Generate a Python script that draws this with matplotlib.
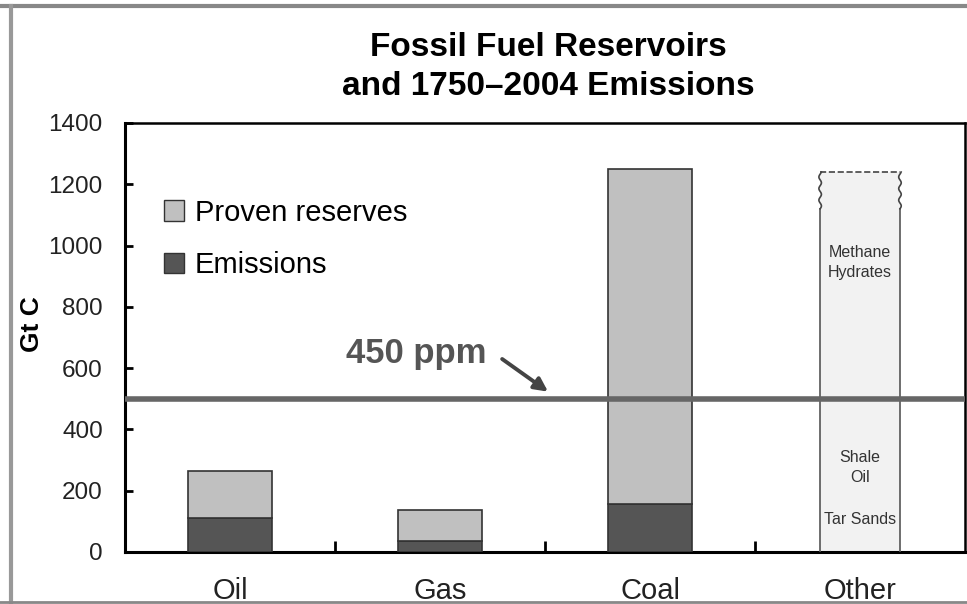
import numpy as np
import matplotlib
matplotlib.use('Agg')
import matplotlib.pyplot as plt
from matplotlib.lines import Line2D

# data (Gt C)
categories = ['Oil', 'Gas', 'Coal', 'Other']
emissions = [111, 36, 155, 0]
reserves_total = [265, 137, 1250, 0]
other_total = 1240       # dashed top of the "Other" bar
other_solid = 1120       # where the wavy (uncertain) part starts
limit_450 = 500

annotations_other = [('Methane\nHydrates', 945), ('Shale\nOil', 275), ('Tar Sands', 105)]

plt.rcParams['font.family'] = ['Liberation Sans', 'DejaVu Sans']

fig = plt.figure(figsize=(9.67, 6.04), dpi=100)
ax = fig.add_axes([0.1293, 0.0861, 0.8687, 0.7103])

x = np.arange(len(categories))
w = 0.40
em_col = '#555555'
res_col = '#c0c0c0'
edge = '#333333'

proven = [t - e for t, e in zip(reserves_total, emissions)]
ax.bar(x[:3], emissions[:3], w, color=em_col, edgecolor=edge, linewidth=1.2, zorder=3)
ax.bar(x[:3], proven[:3], w, bottom=emissions[:3], color=res_col,
       edgecolor=edge, linewidth=1.2, zorder=3)

# "Other" bar: open box with wavy sides and dashed top
ow = 0.38
xo = x[3]
ax.bar(xo, other_total, ow, color='#f2f2f2', edgecolor='none', zorder=2)
for side in (xo - ow / 2, xo + ow / 2):
    ax.plot([side, side], [0, other_solid], color='#555555', lw=1.2, zorder=3)
    yy = np.linspace(other_solid, other_total, 60)
    ax.plot(side + 0.006 * np.sin((yy - other_solid) / 6.0), yy,
            color='#444444', lw=1.2, zorder=3)
ax.plot([xo - ow / 2, xo + ow / 2], [other_total, other_total], ls='--',
        color='#444444', lw=1.2, zorder=3)
for txt, yv in annotations_other:
    ax.text(xo, yv, txt, ha='center', va='center', fontsize=11.5,
            color='#333333', linespacing=1.45, zorder=4)

# 450 ppm line
ax.axhline(limit_450, color='#666666', lw=4, zorder=4)
ax.annotate('', xy=(1.525, 518), xytext=(1.285, 635),
            arrowprops=dict(arrowstyle='-|>', color='#444444', lw=2.8,
                            mutation_scale=20), zorder=5)
ax.text(0.55, 648, '450 ppm', ha='left', va='center', fontsize=25,
        fontweight='bold', color='#555555', zorder=5)

ax.set_xlim(-0.5, 3.5)
ax.set_ylim(0, 1400)
ax.set_yticks(np.arange(0, 1401, 200))
ax.set_xticks(x)
ax.set_xticklabels(categories, fontsize=21, color='#222222')
ax.set_xticks(x[:-1] + 0.5, minor=True)
ax.tick_params(axis='x', which='major', length=0, pad=18)
ax.tick_params(axis='x', which='minor', direction='in', length=8, width=2)
ax.tick_params(axis='y', direction='in', length=6, width=2, labelsize=17.5,
               labelcolor='#222222', pad=16)
for s in ('left', 'bottom'):
    ax.spines[s].set_linewidth(2.2)
for s in ('top', 'right'):
    ax.spines[s].set_linewidth(1.8)
ax.set_ylabel('Gt C', fontsize=19, fontweight='bold')
ax.yaxis.set_label_coords(-0.097, 0.53)

# legend
handles = [plt.Rectangle((0, 0), 1, 1, fc=res_col, ec=edge),
           plt.Rectangle((0, 0), 1, 1, fc=em_col, ec=edge)]
ax.legend(handles, ['Proven reserves', 'Emissions'], loc='upper left',
          bbox_to_anchor=(0.015, 0.885), frameon=False, fontsize=21,
          handlelength=0.7, handleheight=0.7, handletextpad=0.35,
          labelspacing=0.85)

fig.text(0.567, 0.889, 'Fossil Fuel Reservoirs\nand 1750\u20132004 Emissions',
         ha='center', va='center', fontsize=24, fontweight='bold',
         linespacing=1.35)

# slide frame remnants
fig.add_artist(Line2D([0, 1], [0.99, 0.99], color='#888888', lw=3))
fig.add_artist(Line2D([0.011, 0.011], [0, 0.99], color='#999999', lw=3))
fig.add_artist(Line2D([0, 1], [0.003, 0.003], color='#888888', lw=2))

fig.savefig('out.png', dpi=100)
